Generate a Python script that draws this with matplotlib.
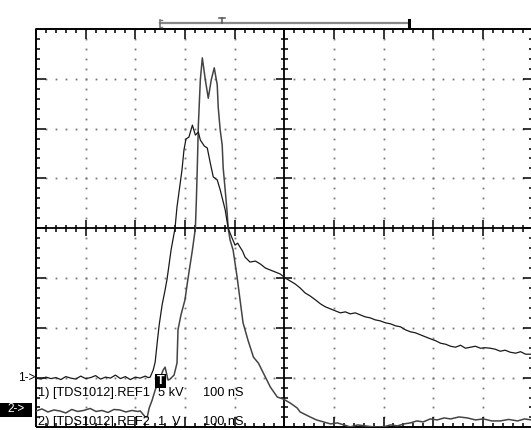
"""TDS1012 reference waveforms REF1 / REF2, screen capture redrawn."""

import matplotlib.pyplot as plt
import numpy as np
from matplotlib.patches import Rectangle

# Screen units: x in divisions (100 nS/div), y in divisions from screen centre
ref1_x = [0.00, 0.10, 0.20, 0.30, 0.40, 0.50, 0.60, 0.70, 0.80, 0.90, 1.00,
          1.10, 1.20, 1.30, 1.40, 1.50, 1.60, 1.70, 1.80, 1.90, 2.00, 2.10,
          2.20, 2.26, 2.30, 2.36, 2.40, 2.44, 2.48, 2.54, 2.60, 2.64, 2.72,
          2.80, 2.84, 2.90, 2.94, 2.98, 3.02, 3.08, 3.15, 3.21, 3.27, 3.31,
          3.39, 3.45, 3.51, 3.57, 3.65, 3.71, 3.81, 3.87, 3.95, 4.01, 4.06,
          4.11, 4.16, 4.21, 4.31, 4.42, 4.52, 4.62, 4.72, 4.82, 4.92, 5.02,
          5.12, 5.22, 5.32, 5.42, 5.52, 5.63, 5.73, 5.83, 5.93, 6.03, 6.13,
          6.23, 6.33, 6.43, 6.53, 6.63, 6.73, 6.83, 6.93, 7.04, 7.14, 7.24,
          7.34, 7.44, 7.54, 7.64, 7.74, 7.84, 7.94, 8.05, 8.15, 8.25, 8.35,
          8.45, 8.55, 8.65, 8.75, 8.85, 8.95, 9.05, 9.15, 9.25, 9.35, 9.45,
          9.55, 9.66, 9.76, 9.86, 9.98]
ref1_y = [-3.01, -3.03, -2.99, -3.02, -3.00, -3.04, -2.98, -3.01, -3.03, -2.97, -3.02,
          -3.00, -2.96, -3.03, -2.99, -3.01, -2.95, -3.02, -2.98, -3.04, -2.99, -3.01,
          -2.97, -3.00, -2.99, -2.85, -2.69, -2.31, -1.95, -1.54, -1.24, -1.02, -0.44,
          0.00, 0.43, 0.87, 1.17, 1.57, 1.79, 1.83, 2.07, 1.87, 1.93, 1.77,
          1.65, 1.61, 1.31, 1.03, 0.97, 0.77, 0.37, 0.00, -0.20, -0.34, -0.30,
          -0.38, -0.46, -0.58, -0.68, -0.66, -0.72, -0.80, -0.84, -0.88, -0.92, -1.00,
          -1.06, -1.12, -1.20, -1.30, -1.36, -1.44, -1.52, -1.58, -1.62, -1.66, -1.70,
          -1.68, -1.72, -1.70, -1.74, -1.78, -1.80, -1.84, -1.86, -1.90, -1.92, -1.96,
          -1.98, -2.04, -2.08, -2.10, -2.14, -2.18, -2.22, -2.26, -2.31, -2.33, -2.37,
          -2.39, -2.35, -2.41, -2.39, -2.37, -2.41, -2.40, -2.41, -2.43, -2.47, -2.45,
          -2.49, -2.51, -2.48, -2.53, -2.53]

ref2_x = [0.00, 0.12, 0.24, 0.36, 0.48, 0.60, 0.72, 0.84, 0.96, 1.09, 1.21,
          1.33, 1.45, 1.57, 1.69, 1.81, 1.93, 2.05, 2.10, 2.20, 2.24, 2.28,
          2.34, 2.40, 2.44, 2.50, 2.56, 2.60, 2.66, 2.70, 2.78, 2.84, 2.86,
          2.92, 3.00, 3.06, 3.15, 3.21, 3.23, 3.25, 3.27, 3.31, 3.35, 3.41,
          3.47, 3.53, 3.59, 3.65, 3.67, 3.71, 3.75, 3.77, 3.81, 3.85, 3.87,
          3.91, 3.97, 4.05, 4.11, 4.17, 4.27, 4.38, 4.48, 4.58, 4.72, 4.86,
          4.98, 5.12, 5.26, 5.32, 5.52, 5.65, 5.79, 5.93, 6.07, 6.20, 6.33,
          6.48, 6.63, 6.80, 7.00, 7.14, 7.28, 7.41, 7.54, 7.67, 7.80, 7.94,
          8.08, 8.22, 8.35, 8.52, 8.69, 8.85, 9.01, 9.18, 9.35, 9.52, 9.70,
          9.84, 9.98]
ref2_y = [-3.67, -3.63, -3.69, -3.65, -3.67, -3.71, -3.64, -3.68, -3.66, -3.62, -3.68,
          -3.66, -3.70, -3.64, -3.65, -3.69, -3.66, -3.68, -3.67, -3.79, -3.79, -3.61,
          -3.45, -3.25, -3.15, -3.01, -2.85, -2.79, -3.05, -3.03, -2.95, -2.71, -2.04,
          -1.74, -1.44, -1.02, -0.44, 0.00, 0.57, 1.27, 2.07, 2.98, 3.42, 2.98,
          2.61, 2.98, 3.22, 2.88, 2.43, 1.97, 1.67, 1.21, 0.77, 0.31, 0.00,
          -0.24, -0.44, -0.98, -1.44, -1.90, -2.25, -2.59, -2.71, -2.91, -3.19, -3.39,
          -3.43, -3.51, -3.61, -3.69, -3.79, -3.85, -3.89, -3.93, -3.91, -3.95, -3.99,
          -3.95, -3.97, -3.99, -3.99, -3.95, -3.97, -3.93, -3.91, -3.87, -3.89, -3.83,
          -3.85, -3.81, -3.83, -3.79, -3.81, -3.85, -3.83, -3.87, -3.87, -3.84, -3.87,
          -3.83, -3.85]

ref1_label = ['1) [TDS1012].REF1', '5 kV', '100 nS']
ref2_label = ['2) [TDS1012].REF2', '1  V', '100 nS']
ref1_level = -3.01
ref2_level = -3.64
trigger_pos = 3.75
record_span = (2.50, 7.52)

font = ['Liberation Sans', 'DejaVu Sans']

W, H = 531, 430
fig = plt.figure(figsize=(W / 100, H / 100), dpi=100)
fig.patch.set_facecolor('white')
ax = fig.add_axes([36 / W, 2.6 / H, 496.5 / W, 398.4 / H])
ax.set_xlim(0, 10)
ax.set_ylim(-4, 4)
ax.axis('off')

# graticule -----------------------------------------------------------------
dot_kw = dict(ls='none', marker='s', ms=1.3, mew=0, color='#777777')
for gx in [1, 2, 3, 4, 6, 7, 8, 9]:
    yy = np.arange(-4, 4.001, 0.2)
    ax.plot(np.full_like(yy, gx), yy, **dot_kw)
for gy in [-3, -2, -1, 1, 2, 3]:
    xx = np.arange(0, 10.001, 0.2)
    ax.plot(xx, np.full_like(xx, gy), **dot_kw)

ax.plot([0, 0, 10, 10, 0], [-4, 4, 4, -4, -4], color='black', lw=1.4,
        clip_on=False, solid_capstyle='butt')
ax.plot([0, 10], [0, 0], color='black', lw=1.3)
ax.plot([5, 5], [-4, 4], color='black', lw=1.3)

xt = np.round(np.arange(0, 10.001, 0.2), 2)
yt = np.round(np.arange(-4, 4.001, 0.2), 2)
tk = dict(color='black', lw=1.1, clip_on=False)
for x in xt[1:-1]:
    major = abs(x - round(x)) < 1e-6
    l = 0.2 if major else 0.08
    ax.vlines(x, 4 - l, 4, **tk)
    ax.vlines(x, -4, -4 + l, **tk)
    c = 0.16 if major else 0.07
    ax.vlines(x, -c, c, **tk)
for y in yt[1:-1]:
    major = abs(y - round(y)) < 1e-6
    l = 0.2 if major else 0.08
    ax.hlines(y, 0, l, **tk)
    ax.hlines(y, 10 - l, 10, **tk)
    c = 0.16 if major else 0.07
    ax.hlines(y, 5 - c, 5 + c, **tk)

# record / trigger indicator above the screen
ax.plot(record_span, [4.12, 4.12], color='#888888', lw=1.6, clip_on=False)
ax.plot([record_span[0]] * 2, [4.05, 4.19], color='#777777', lw=1.2, clip_on=False)
ax.plot([record_span[0], record_span[0] + 0.04], [4.05, 4.05], color='#777777', lw=1.0, clip_on=False)
ax.plot([record_span[0], record_span[0] + 0.04], [4.19, 4.19], color='#777777', lw=1.0, clip_on=False)
ax.plot([record_span[1]] * 2, [4.05, 4.19], color='black', lw=2.2, clip_on=False)
ax.plot([trigger_pos] * 2, [4.12, 4.23], color='#555555', lw=1.1, clip_on=False)
ax.plot([trigger_pos - 0.06, trigger_pos + 0.06], [4.23, 4.23], color='#555555',
        lw=1.1, clip_on=False)

# waveforms -----------------------------------------------------------------
ax.plot(ref2_x, ref2_y, color='#444444', lw=1.1)
ax.plot(ref1_x, ref1_y, color='#1a1a1a', lw=0.9)

# markers and readouts
ax.text(-0.37, ref1_level, '1->', fontsize=8.5, va='center', ha='left',
        family=font, clip_on=False)
ax.add_patch(Rectangle((-0.73, ref2_level - 0.15), 0.65, 0.29, fc='black',
                       ec='none', clip_on=False, zorder=5))
ax.text(-0.41, ref2_level, '2->', fontsize=8.5, va='center', ha='center',
        color='white', family=font, clip_on=False, zorder=6)
ax.add_patch(Rectangle((2.39, -3.20), 0.23, 0.28, fc='black', ec='none', zorder=5))
ax.text(2.505, -3.06, 'T', fontsize=9, va='center', ha='center', color='white',
        weight='bold', family=font, zorder=6)

for row, y in [(ref1_label, -3.31), (ref2_label, -3.89)]:
    for txt, x in zip(row, [0.04, 2.46, 3.37]):
        ax.text(x, y, txt, fontsize=9.2, va='center', ha='left',
                family=font, clip_on=False, zorder=6)

fig.savefig('out.png', dpi=100)
